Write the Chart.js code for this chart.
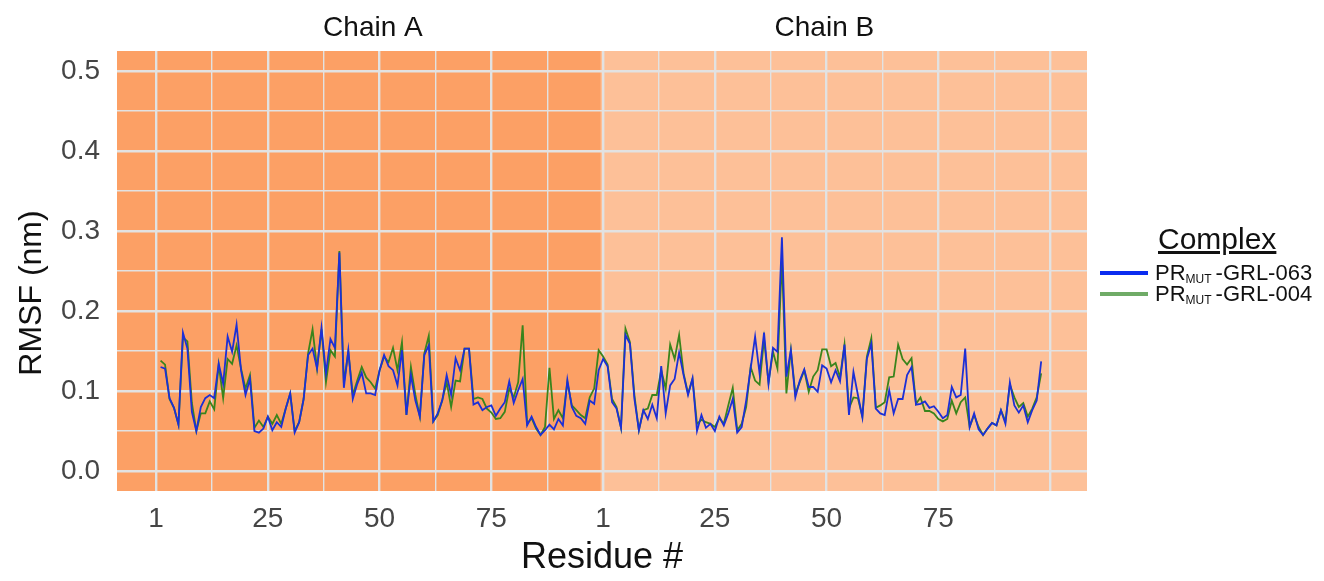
<!DOCTYPE html>
<html>
<head>
<meta charset="utf-8">
<script src="https://cdn.jsdelivr.net/npm/chart.js@4.4.1/dist/chart.umd.min.js"></script>
<style>
  body { margin: 0; background: #fff; }
  #wrap { position: relative; width: 1324px; height: 581px; font-family: "Liberation Sans", Arial, sans-serif; }
  #legend { position: absolute; left: 1096px; top: 221px; width: 228px; }
  #legend .title { font-size: 30px; text-decoration: underline; color: #111; margin-left: 62px; line-height: 36px; }
  #legend .item { position: relative; height: 21px; font-size: 22px; color: #111; line-height: 21px; }
  #legend .swatch { position: absolute; left: 4px; top: 9px; width: 48px; height: 4px; }
  #legend .label { position: absolute; left: 59px; top: 0; white-space: nowrap; }
  #legend sub { font-size: 12px; vertical-align: -3px; margin-right: 4px; }
</style>
</head>
<body>
<div id="wrap">
  <canvas id="rmsfChart" width="1324" height="581"></canvas>
  <div id="legend">
    <div class="title">Complex</div>
    <div class="item" style="margin-top:5px"><span class="swatch" style="background:#0a2cf0"></span><span class="label">PR<sub>MUT</sub>-GRL-063</span></div>
    <div class="item"><span class="swatch" style="background:#6fab67"></span><span class="label">PR<sub>MUT</sub>-GRL-004</span></div>
  </div>
</div>
<script>
// RMSF per residue, chain A (1-99) then chain B (1-99)
const grl063ChainA = [0.130, 0.128, 0.091, 0.079, 0.058, 0.173, 0.153, 0.074, 0.050, 0.080,
    0.091, 0.095, 0.091, 0.134, 0.109, 0.168, 0.149, 0.183, 0.126, 0.095,
    0.115, 0.050, 0.048, 0.053, 0.068, 0.051, 0.061, 0.055, 0.078, 0.097,
    0.048, 0.061, 0.090, 0.145, 0.153, 0.128, 0.179, 0.122, 0.165, 0.154,
    0.273, 0.104, 0.151, 0.090, 0.109, 0.123, 0.097, 0.097, 0.095, 0.126,
    0.145, 0.131, 0.126, 0.107, 0.151, 0.070, 0.120, 0.088, 0.068, 0.145,
    0.157, 0.062, 0.072, 0.088, 0.120, 0.095, 0.141, 0.126, 0.153, 0.153,
    0.083, 0.086, 0.076, 0.080, 0.082, 0.069, 0.078, 0.086, 0.112, 0.085,
    0.101, 0.115, 0.057, 0.068, 0.055, 0.045, 0.051, 0.058, 0.052, 0.065,
    0.057, 0.114, 0.080, 0.069, 0.066, 0.059, 0.088, 0.084, 0.126];
const grl063ChainB = [0.140, 0.131, 0.086, 0.078, 0.054, 0.170, 0.159, 0.090, 0.051, 0.076,
    0.065, 0.083, 0.066, 0.131, 0.072, 0.107, 0.115, 0.148, 0.120, 0.095,
    0.116, 0.050, 0.070, 0.054, 0.059, 0.050, 0.068, 0.057, 0.072, 0.090,
    0.048, 0.055, 0.088, 0.128, 0.168, 0.122, 0.173, 0.109, 0.154, 0.149,
    0.292, 0.118, 0.151, 0.092, 0.113, 0.127, 0.105, 0.105, 0.099, 0.132,
    0.128, 0.111, 0.126, 0.112, 0.158, 0.070, 0.124, 0.095, 0.067, 0.140,
    0.159, 0.078, 0.072, 0.070, 0.101, 0.072, 0.090, 0.090, 0.120, 0.130,
    0.083, 0.084, 0.087, 0.079, 0.081, 0.074, 0.066, 0.070, 0.105, 0.092,
    0.095, 0.153, 0.055, 0.072, 0.052, 0.045, 0.053, 0.060, 0.057, 0.076,
    0.059, 0.111, 0.082, 0.073, 0.082, 0.061, 0.076, 0.088, 0.137];
const grl004ChainA = [0.138, 0.133, 0.090, 0.079, 0.058, 0.167, 0.162, 0.085, 0.050, 0.072,
    0.072, 0.087, 0.077, 0.133, 0.091, 0.140, 0.134, 0.157, 0.128, 0.103,
    0.120, 0.054, 0.063, 0.055, 0.068, 0.059, 0.070, 0.059, 0.078, 0.097,
    0.050, 0.061, 0.090, 0.147, 0.177, 0.128, 0.177, 0.111, 0.151, 0.143,
    0.275, 0.110, 0.149, 0.095, 0.113, 0.130, 0.117, 0.111, 0.103, 0.126,
    0.143, 0.136, 0.154, 0.126, 0.161, 0.070, 0.130, 0.095, 0.068, 0.147,
    0.169, 0.062, 0.070, 0.088, 0.111, 0.080, 0.113, 0.112, 0.153, 0.153,
    0.090, 0.092, 0.090, 0.078, 0.073, 0.065, 0.066, 0.074, 0.103, 0.092,
    0.111, 0.182, 0.059, 0.066, 0.053, 0.045, 0.055, 0.129, 0.065, 0.076,
    0.066, 0.111, 0.082, 0.076, 0.070, 0.066, 0.092, 0.103, 0.151];
const grl004ChainB = [0.143, 0.133, 0.090, 0.080, 0.054, 0.178, 0.161, 0.095, 0.051, 0.076,
    0.078, 0.095, 0.095, 0.126, 0.103, 0.158, 0.140, 0.170, 0.122, 0.097,
    0.115, 0.059, 0.064, 0.061, 0.059, 0.055, 0.066, 0.059, 0.082, 0.104,
    0.051, 0.059, 0.080, 0.130, 0.113, 0.108, 0.165, 0.111, 0.149, 0.128,
    0.265, 0.097, 0.151, 0.097, 0.111, 0.126, 0.099, 0.118, 0.126, 0.152,
    0.152, 0.131, 0.135, 0.117, 0.158, 0.078, 0.092, 0.091, 0.068, 0.143,
    0.166, 0.079, 0.082, 0.086, 0.117, 0.118, 0.158, 0.140, 0.133, 0.141,
    0.084, 0.092, 0.075, 0.075, 0.072, 0.065, 0.062, 0.065, 0.088, 0.072,
    0.086, 0.092, 0.055, 0.070, 0.055, 0.045, 0.053, 0.060, 0.057, 0.076,
    0.062, 0.108, 0.092, 0.080, 0.085, 0.068, 0.078, 0.092, 0.122];

const xTickValues = [0, 25, 50, 75, 100, 125, 150, 175, 200];
const xTickLabels = ['1', '25', '50', '75', '1', '25', '50', '75', ''];
const yTickValues = [0, 0.1, 0.2, 0.3, 0.4, 0.5];
const chainNames = ['Chain A', 'Chain B'];
const yTitle = 'RMSF (nm)';

const FONT = '"Liberation Sans", Arial, sans-serif';
const chainAFill = '#fca065';
const chainBFill = '#fdc098';
const gridColor = '#e2e2e2';

function toPoints(chainA, chainB) {
    return chainA.concat(chainB).map(function (v, i) {
        return { x: i + 1, y: v };
    });
}

// majors plus the half-way minor lines, same as the original ggplot grid
function withMinors(values) {
    var out = [];
    values.forEach(function (v, i) {
        out.push(v);
        if (i < values.length - 1) out.push((v + values[i + 1]) / 2);
    });
    return out;
}

const chainBackground = {
    id: 'chainBackground',
    beforeDraw: function (chart) {
        const ctx = chart.ctx;
        const area = chart.chartArea;
        const split = chart.scales.x.getPixelForValue(99.5);
        ctx.save();
        ctx.fillStyle = chainAFill;
        ctx.fillRect(area.left, area.top, split - area.left, area.bottom - area.top);
        ctx.fillStyle = chainBFill;
        ctx.fillRect(split, area.top, area.right - split, area.bottom - area.top);
        ctx.restore();
    },
    afterDraw: function (chart) {
        const ctx = chart.ctx;
        ctx.save();
        ctx.font = '28px ' + FONT;
        ctx.fillStyle = '#111';
        ctx.textAlign = 'center';
        ctx.textBaseline = 'middle';
        ctx.fillText(chainNames[0], chart.scales.x.getPixelForValue(48.5), 28);
        ctx.fillText(chainNames[1], chart.scales.x.getPixelForValue(149.5), 28);
        // y title sits on the figure middle, not the panel middle
        ctx.translate(32, 293);
        ctx.rotate(-Math.PI / 2);
        ctx.font = '32px ' + FONT;
        ctx.fillText(yTitle, 0, 0);
        ctx.restore();
    }
};

const ctx = document.getElementById('rmsfChart');

new Chart(ctx, {
    type: 'line',
    data: {
        datasets: [{
            label: 'PR MUT-GRL-063',
            data: toPoints(grl063ChainA, grl063ChainB),
            borderColor: '#1c2fd6',
            borderWidth: 1.8,
            pointRadius: 0,
            tension: 0,
            order: 1
        }, {
            label: 'PR MUT-GRL-004',
            data: toPoints(grl004ChainA, grl004ChainB),
            borderColor: '#3a841c',
            borderWidth: 1.8,
            pointRadius: 0,
            tension: 0,
            order: 2
        }]
    },
    options: {
        responsive: false,
        animation: false,
        devicePixelRatio: 1,
        layout: { padding: { top: 51, right: 237, bottom: 0, left: 0 } },
        plugins: {
            legend: { display: false },
            tooltip: { enabled: false }
        },
        scales: {
            x: {
                type: 'linear',
                min: -8.75,
                max: 208.25,
                afterFit: function (scale) { scale.height = 90; },
                afterBuildTicks: function (scale) {
                    scale.ticks = withMinors(xTickValues).map(function (v) { return { value: v }; });
                },
                border: { display: false },
                grid: {
                    color: gridColor,
                    drawTicks: false,
                    lineWidth: function (c) {
                        return xTickValues.indexOf(c.tick.value) >= 0 ? 2.4 : 1.4;
                    }
                },
                ticks: {
                    autoSkip: false,
                    maxRotation: 0,
                    padding: 11,
                    color: '#454545',
                    font: { family: FONT, size: 28 },
                    callback: function (value) {
                        var i = xTickValues.indexOf(value);
                        return i >= 0 ? xTickLabels[i] : '';
                    }
                },
                title: {
                    display: true,
                    text: 'Residue #',
                    color: '#111',
                    font: { family: FONT, size: 36 },
                    padding: { top: 0, bottom: 1 }
                }
            },
            y: {
                min: -0.025,
                max: 0.525,
                afterFit: function (scale) { scale.width = 117; },
                afterBuildTicks: function (scale) {
                    scale.ticks = withMinors(yTickValues).map(function (v) { return { value: v }; });
                },
                border: { display: false },
                grid: {
                    color: gridColor,
                    drawTicks: false,
                    lineWidth: function (c) {
                        return Math.abs(c.tick.value * 10 - Math.round(c.tick.value * 10)) < 1e-6 ? 2.4 : 1.4;
                    }
                },
                ticks: {
                    padding: 17,
                    color: '#454545',
                    font: { family: FONT, size: 28 },
                    callback: function (value) {
                        var isMajor = Math.abs(value * 10 - Math.round(value * 10)) < 1e-6;
                        return isMajor ? value.toFixed(1) : '';
                    }
                }
            }
        }
    },
    plugins: [chainBackground]
});
</script>
</body>
</html>
